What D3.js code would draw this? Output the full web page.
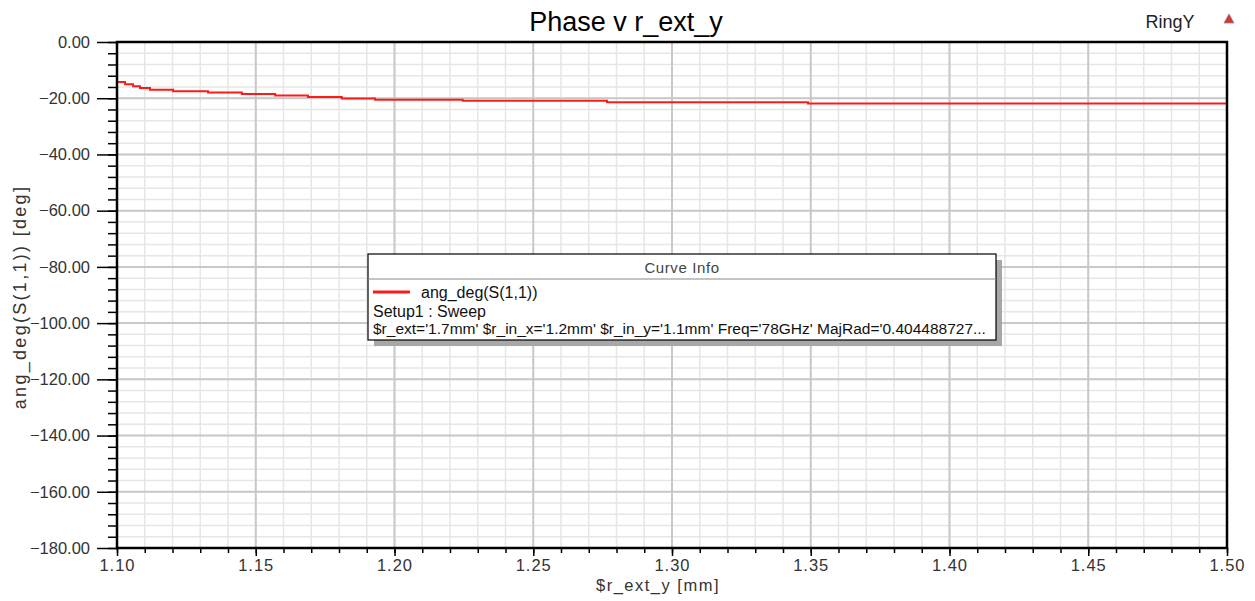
<!DOCTYPE html>
<html>
  <head>
    <meta charset="utf-8">
    <title>Phase v r_ext_y</title>
    <style>
      body { margin: 0; background: #fff; }
      svg { display: block; font-family: "Liberation Sans", Arial, sans-serif; }
      .yax .tick text { font-size: 16.5px; fill: #333; }
      .xax .tick text { font-size: 16.5px; fill: #333; letter-spacing: 1px; }
    </style>
    <script src="https://cdn.jsdelivr.net/npm/d3@7"></script>
  </head>
  <body>
    <svg id="chart" width="1255" height="601"></svg>
    <script>
      // sweep of r_ext_y (mm) against phase of S11 (deg)
      var rExtY = [1.1000, 1.1000, 1.1029, 1.1058, 1.1083, 1.1119, 1.1202, 1.1328, 1.1450,
                   1.1570, 1.1688, 1.1810, 1.1930, 1.2246, 1.2766, 1.3490, 1.5000];
      var angDeg = [-180.0, -14.2, -15.0, -15.7, -16.4, -17.0, -17.5, -18.0, -18.5,
                    -19.0, -19.6, -20.1, -20.5, -20.9, -21.4, -21.9, -21.9];

      var xMajor = [1.10, 1.15, 1.20, 1.25, 1.30, 1.35, 1.40, 1.45, 1.50];
      var yMajor = [0, -20, -40, -60, -80, -100, -120, -140, -160, -180];
      var xMinor = d3.range(0, 41).map(function(i) { return 1.10 + i * 0.01; });
      var yMinor = d3.range(0, 46).map(function(i) { return -i * 4; });

      var legendLines = ["Setup1 : Sweep",
        "$r_ext='1.7mm' $r_in_x='1.2mm' $r_in_y='1.1mm' Freq='78GHz' MajRad='0.404488727..."];

      function draw() {
        var pL = 117, pR = 1227, pT = 42, pB = 548;
        var svg = d3.select("#chart");

        var x = d3.scaleLinear().domain([1.10, 1.50]).range([pL, pR]);
        var y = d3.scaleLinear().domain([-180, 0]).range([pB, pT]);

        // grid
        var grid = svg.append("g");
        grid.selectAll(".vmin").data(xMinor).enter().append("line")
            .attr("x1", function(d) { return x(d); }).attr("x2", function(d) { return x(d); })
            .attr("y1", pT).attr("y2", pB)
            .attr("stroke", "#e6e6e6").attr("stroke-width", 1.5);
        grid.selectAll(".hmin").data(yMinor).enter().append("line")
            .attr("y1", function(d) { return y(d); }).attr("y2", function(d) { return y(d); })
            .attr("x1", pL).attr("x2", pR)
            .attr("stroke", "#e6e6e6").attr("stroke-width", 1.5);
        grid.selectAll(".vmaj").data(xMajor).enter().append("line")
            .attr("x1", function(d) { return x(d); }).attr("x2", function(d) { return x(d); })
            .attr("y1", pT).attr("y2", pB)
            .attr("stroke", "#c8c8c8").attr("stroke-width", 2);
        grid.selectAll(".hmaj").data(yMajor).enter().append("line")
            .attr("y1", function(d) { return y(d); }).attr("y2", function(d) { return y(d); })
            .attr("x1", pL).attr("x2", pR)
            .attr("stroke", "#c8c8c8").attr("stroke-width", 2);

        // axes
        var fmt = d3.format(".2f");
        var yAxMin = svg.append("g").attr("transform", "translate(" + pL + ",0)")
            .call(d3.axisLeft(y).tickValues(yMinor).tickSize(9).tickFormat(""));
        var yAx = svg.append("g").attr("class", "yax").attr("transform", "translate(" + pL + ",0)")
            .call(d3.axisLeft(y).tickValues(yMajor).tickSize(20).tickPadding(7).tickFormat(fmt));
        var xAxMin = svg.append("g").attr("transform", "translate(0," + pB + ")")
            .call(d3.axisBottom(x).tickValues(xMinor).tickSize(5).tickFormat(""));
        var xAx = svg.append("g").attr("class", "xax").attr("transform", "translate(0," + pB + ")")
            .call(d3.axisBottom(x).tickValues(xMajor).tickSize(8).tickPadding(3).tickFormat(fmt));
        [yAxMin, yAx, xAxMin, xAx].forEach(function(a) {
          a.select(".domain").remove();
          a.selectAll(".tick line").attr("stroke", "#000").attr("stroke-width", 1.5);
        });

        // curve
        var line = d3.line()
            .x(function(d) { return x(d[0]); })
            .y(function(d) { return y(d[1]); })
            .curve(d3.curveStepAfter);
        svg.append("path")
           .datum(rExtY.map(function(v, i) { return [v, angDeg[i]]; }))
           .attr("d", line)
           .attr("fill", "none")
           .attr("stroke", "#ff1a1a")
           .attr("stroke-width", 2);

        // frame
        svg.append("rect").attr("x", pL).attr("y", pT)
           .attr("width", pR - pL).attr("height", pB - pT)
           .attr("fill", "none").attr("stroke", "#000").attr("stroke-width", 2.5);

        // titles
        svg.append("text").attr("x", 626).attr("y", 31).attr("text-anchor", "middle")
           .attr("font-size", 27).attr("fill", "#000").text("Phase v r_ext_y");
        svg.append("text").attr("x", 1170).attr("y", 28).attr("text-anchor", "middle")
           .attr("font-size", 18).attr("fill", "#222").text("RingY");
        svg.append("path").attr("d", "M1224,23 L1229,14 L1234,23 Z")
           .attr("fill", "#e03030").attr("stroke", "#888").attr("stroke-width", 0.8);
        svg.append("text").attr("x", 658).attr("y", 591).attr("text-anchor", "middle")
           .attr("font-size", 16.5).attr("letter-spacing", 1.5).attr("fill", "#333").text("$r_ext_y [mm]");
        svg.append("text").attr("transform", "translate(26,297) rotate(-90)")
           .attr("text-anchor", "middle").attr("font-size", 18).attr("letter-spacing", 2.3)
           .attr("fill", "#333").text("ang_deg(S(1,1)) [deg]");

        // legend
        var lx = 368, ly = 254, lw = 628, lh = 86;
        svg.append("rect").attr("x", lx + 6).attr("y", ly + 6).attr("width", lw).attr("height", lh)
           .attr("fill", "#a8a8a8");
        svg.append("rect").attr("x", lx).attr("y", ly).attr("width", lw).attr("height", lh)
           .attr("fill", "#fff").attr("stroke", "#000").attr("stroke-width", 1.2);
        svg.append("line").attr("x1", lx).attr("x2", lx + lw).attr("y1", ly + 25).attr("y2", ly + 25)
           .attr("stroke", "#888");
        svg.append("text").attr("x", lx + lw / 2).attr("y", ly + 19).attr("text-anchor", "middle")
           .attr("font-size", 15).attr("letter-spacing", 0.6).attr("fill", "#444").text("Curve Info");
        svg.append("line").attr("x1", lx + 5).attr("x2", lx + 42).attr("y1", 292).attr("y2", 292)
           .attr("stroke", "#ff1a1a").attr("stroke-width", 3);
        svg.append("text").attr("x", lx + 53).attr("y", 298).attr("font-size", 16)
           .attr("fill", "#111").text("ang_deg(S(1,1))");
        svg.selectAll(".leg").data(legendLines).enter().append("text")
           .attr("x", lx + 5).attr("y", function(d, i) { return 317 + i * 17; })
           .attr("font-size", function(d, i) { return i === 0 ? 16 : 15.5; })
           .attr("fill", "#111").text(function(d) { return d; });
      }
      draw();
    </script>
  </body>
</html>
